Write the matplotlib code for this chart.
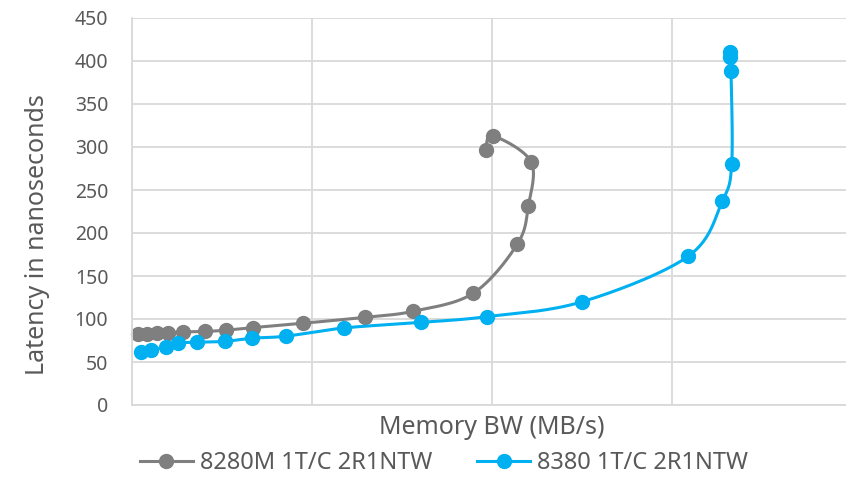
import numpy as np
import matplotlib
matplotlib.use("Agg")
import matplotlib.pyplot as plt

plt.rcParams['font.family'] = ['Noto Sans', 'DejaVu Sans']

# Data (memory bandwidth in MB/s, latency in ns)
series_names = ["8280M 1T/C 2R1NTW", "8380 1T/C 2R1NTW"]
gray_bw = [1750, 4080, 7030, 10080, 14080, 20280, 26110, 33690, 47420, 64720,
           78140, 94810, 107030, 110080, 110830, 100190, 98330]
gray_lat = [82, 83, 83.5, 84, 85, 85.5, 87, 90, 95, 102,
            109, 130, 187, 231, 283, 313, 297]
blue_bw = [2420, 5280, 9360, 12860, 17970, 25830, 33420, 42700, 58970, 80190,
           98530, 125000, 154530, 163970, 166580, 166390, 166100, 166150]
blue_lat = [61.5, 63.5, 68, 72, 73, 74, 77.7, 80, 89.6, 96,
            102.7, 120, 173, 237, 280, 388, 405, 410]
y_ticks = [0, 50, 100, 150, 200, 250, 300, 350, 400, 450]

W, H = 846, 478
fig = plt.figure(figsize=(W / 100, H / 100), dpi=100)
ax = fig.add_axes([132 / W, (H - 405) / H, 720 / W, (405 - 18) / H])
ax.set_xlim(0, 200000)
ax.set_ylim(0, 450)
ax.set_yticks(y_ticks)
ax.set_xticks([0, 50000, 100000, 150000, 200000])
ax.set_xticklabels([])
ax.tick_params(axis='y', length=0, labelsize=14, colors='#595959', pad=17)
ax.tick_params(axis='x', length=0)
ax.grid(True, color='#D9D9D9', linewidth=1.3)
ax.set_axisbelow(True)
for s in ['top', 'right']:
    ax.spines[s].set_visible(False)
for s in ['left', 'bottom']:
    ax.spines[s].set_color('#D9D9D9')
    ax.spines[s].set_linewidth(1.3)

fig.text(37 / W, 1 - 235 / H, "Latency in nanoseconds", fontsize=18, color='#595959',
         rotation=90, ha='center', va='center')
fig.text(492 / W, 1 - 428 / H, "Memory BW (MB/s)", fontsize=18, color='#595959',
         ha='center', va='center')


def smooth(xs, ys, n=30):
    pts = ax.transData.transform(np.column_stack([xs, ys]))
    P = np.vstack([pts[0], pts, pts[-1]])
    out = []
    t = np.linspace(0, 1, n)[:, None]
    for i in range(1, len(P) - 2):
        p0, p1, p2, p3 = P[i - 1], P[i], P[i + 1], P[i + 2]
        c1 = p1 + (p2 - p0) / 6
        c2 = p2 - (p3 - p1) / 6
        seg = ((1 - t) ** 3) * p1 + 3 * ((1 - t) ** 2) * t * c1 + 3 * (1 - t) * t ** 2 * c2 + t ** 3 * p2
        out.append(seg)
    out = np.vstack(out)
    d = ax.transData.inverted().transform(out)
    return d[:, 0], d[:, 1]


colors = ['#7F7F7F', '#00B0F0']
handles = []
for (xs, ys), c, name in zip([(gray_bw, gray_lat), (blue_bw, blue_lat)], colors, series_names):
    sx, sy = smooth(xs, ys)
    ax.plot(sx, sy, color=c, linewidth=2.2, solid_capstyle='round', clip_on=False)
    ax.plot(xs, ys, 'o', color=c, markersize=10, clip_on=False)
    h, = ax.plot([], [], '-o', color=c, linewidth=2.2, markersize=10, label=name)
    handles.append(h)

fig.legend(handles=handles, loc='center', bbox_to_anchor=(444 / W, 1 - 463 / H),
           ncol=2, frameon=False, fontsize=17, labelcolor='#595959',
           handlelength=2.25, handletextpad=0.3, columnspacing=1.9,
           borderpad=0, borderaxespad=0)

fig.savefig("out.png", dpi=100)
